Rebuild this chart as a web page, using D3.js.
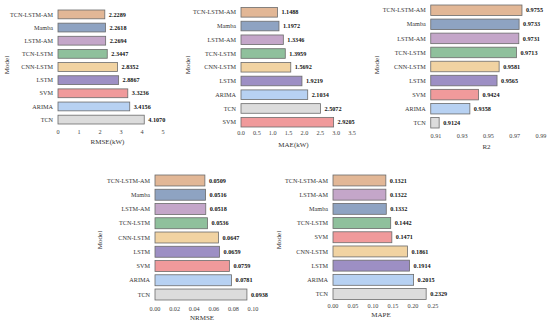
<!DOCTYPE html>
<html>
<head>
<meta charset="utf-8">
<script src="https://cdn.jsdelivr.net/npm/d3@7"></script>
<style>
  body { margin: 0; background: #fff; }
  svg { display: block; font-family: "Liberation Serif", "Times New Roman", serif; }
</style>
</head>
<body>
<svg id="chart" width="550" height="324"></svg>
<script>
// data per panel (top to bottom)
const rmseModels = ['TCN-LSTM-AM', 'Mamba', 'LSTM-AM', 'TCN-LSTM', 'CNN-LSTM', 'LSTM', 'SVM', 'ARIMA', 'TCN'];
const rmseValues = [2.2289, 2.2618, 2.2694, 2.3447, 2.8352, 2.8867, 3.3236, 3.4156, 4.1070];
const rmseTicks = [0, 1, 2, 3, 4, 5];

const maeModels = ['TCN-LSTM-AM', 'Mamba', 'LSTM-AM', 'TCN-LSTM', 'CNN-LSTM', 'LSTM', 'ARIMA', 'TCN', 'SVM'];
const maeValues = [1.1488, 1.1972, 1.3346, 1.3959, 1.5692, 1.9219, 2.1034, 2.5072, 2.9205];
const maeTicks = [0, 0.5, 1, 1.5, 2, 2.5, 3, 3.5];

const r2Models = ['TCN-LSTM-AM', 'Mamba', 'LSTM-AM', 'TCN-LSTM', 'CNN-LSTM', 'LSTM', 'SVM', 'ARIMA', 'TCN'];
const r2Values = [0.9755, 0.9733, 0.9731, 0.9713, 0.9581, 0.9565, 0.9424, 0.9358, 0.9124];
const r2Ticks = [0.91, 0.93, 0.95, 0.97, 0.99];

const nrmseModels = ['TCN-LSTM-AM', 'Mamba', 'LSTM-AM', 'TCN-LSTM', 'CNN-LSTM', 'LSTM', 'SVM', 'ARIMA', 'TCN'];
const nrmseValues = [0.0509, 0.0516, 0.0518, 0.0536, 0.0647, 0.0659, 0.0759, 0.0781, 0.0938];
const nrmseTicks = [0, 0.02, 0.04, 0.06, 0.08, 0.10];

const mapeModels = ['TCN-LSTM-AM', 'LSTM-AM', 'Mamba', 'TCN-LSTM', 'SVM', 'CNN-LSTM', 'LSTM', 'ARIMA', 'TCN'];
const mapeValues = [0.1321, 0.1322, 0.1332, 0.1442, 0.1471, 0.1861, 0.1914, 0.2015, 0.2329];
const mapeTicks = [0, 0.05, 0.10, 0.15, 0.20, 0.25];

const modelColors = {
  'TCN-LSTM-AM': '#e2b796',
  'Mamba': '#8ea3c2',
  'LSTM-AM': '#c4a6c9',
  'TCN-LSTM': '#8fc09c',
  'CNN-LSTM': '#f1d3a2',
  'LSTM': '#9d8fc4',
  'SVM': '#f09a9b',
  'ARIMA': '#b7d1f2',
  'TCN': '#dcdcdc'
};

const svg = d3.select('#chart');

// one horizontal bar panel
function drawPanel(p) {
  const g = svg.append('g');

  const x = d3.scaleLinear().domain(p.domain).range(p.xr);
  const y = d3.scaleBand().domain(p.models).range(p.yr).paddingInner(p.pad).paddingOuter(0);
  const x0 = x(p.base);

  // bars
  g.selectAll('rect')
    .data(p.models)
    .enter()
    .append('rect')
    .attr('x', x0)
    .attr('y', d => y(d))
    .attr('width', (d, i) => x(p.values[i]) - x0)
    .attr('height', y.bandwidth())
    .attr('fill', d => modelColors[d])
    .attr('stroke', '#6b6b6b')
    .attr('stroke-width', 0.8);

  // value labels
  g.selectAll('text.val')
    .data(p.models)
    .enter()
    .append('text')
    .attr('class', 'val')
    .attr('x', (d, i) => x(p.values[i]) + 4)
    .attr('y', d => y(d) + y.bandwidth() / 2)
    .attr('dy', '0.35em')
    .attr('font-size', 6.2)
    .attr('font-weight', 'bold')
    .attr('fill', '#111')
    .text((d, i) => p.values[i].toFixed(4));

  // category labels
  g.selectAll('text.cat')
    .data(p.models)
    .enter()
    .append('text')
    .attr('class', 'cat')
    .attr('x', x0 - 5)
    .attr('y', d => y(d) + y.bandwidth() / 2)
    .attr('dy', '0.35em')
    .attr('text-anchor', 'end')
    .attr('font-size', 6.2)
    .attr('fill', '#333')
    .text(d => d);

  // x tick labels
  g.selectAll('text.tick')
    .data(p.ticks)
    .enter()
    .append('text')
    .attr('class', 'tick')
    .attr('x', d => x(d))
    .attr('y', p.tickY)
    .attr('dy', '0.35em')
    .attr('text-anchor', 'middle')
    .attr('font-size', 6.2)
    .attr('fill', '#444')
    .text(p.fmt);

  // axis titles
  g.append('text')
    .attr('x', (p.xr[0] + p.xr[1]) / 2 + (p.titleDx || 0))
    .attr('y', p.titleY)
    .attr('dy', '0.35em')
    .attr('text-anchor', 'middle')
    .attr('font-size', 7)
    .attr('fill', '#333')
    .text(p.title);

  g.append('text')
    .attr('transform', 'translate(' + p.ylabX + ',' + p.ylabY + ') rotate(-90)')
    .attr('dy', '0.35em')
    .attr('text-anchor', 'middle')
    .attr('font-size', 7)
    .attr('fill', '#333')
    .text('Model');
}

drawPanel({
  models: rmseModels, values: rmseValues, ticks: rmseTicks, fmt: d3.format('d'),
  domain: [0, 5], base: 0, xr: [58, 163], yr: [10, 124], pad: 0.33,
  tickY: 132, title: 'RMSE(kW)', titleY: 142, titleDx: -3, ylabX: 7, ylabY: 65
});

drawPanel({
  models: maeModels, values: maeValues, ticks: maeTicks, fmt: d3.format('.1f'),
  domain: [0, 3.5], base: 0, xr: [241, 352], yr: [7.5, 127], pad: 0.3,
  tickY: 133, title: 'MAE(kW)', titleY: 145, titleDx: -3, ylabX: 188, ylabY: 65
});

drawPanel({
  models: r2Models, values: r2Values, ticks: r2Ticks, fmt: d3.format('.2f'),
  domain: [0.91, 0.99], base: 0.906, xr: [436, 541], yr: [5, 128], pad: 0.25,
  tickY: 136, title: 'R2', titleY: 147, titleDx: -2, ylabX: 377, ylabY: 65
});

drawPanel({
  models: nrmseModels, values: nrmseValues, ticks: nrmseTicks, fmt: d3.format('.2f'),
  domain: [0, 0.10], base: 0, xr: [155, 253], yr: [175, 300], pad: 0.23,
  tickY: 309, title: 'NRMSE', titleY: 318, titleDx: -2, ylabX: 100, ylabY: 240
});

drawPanel({
  models: mapeModels, values: mapeValues, ticks: mapeTicks, fmt: d3.format('.2f'),
  domain: [0, 0.25], base: 0, xr: [333, 433], yr: [175, 299.5], pad: 0.23,
  tickY: 306, title: 'MAPE', titleY: 315, titleDx: -2, ylabX: 279, ylabY: 240
});
</script>
</body>
</html>
